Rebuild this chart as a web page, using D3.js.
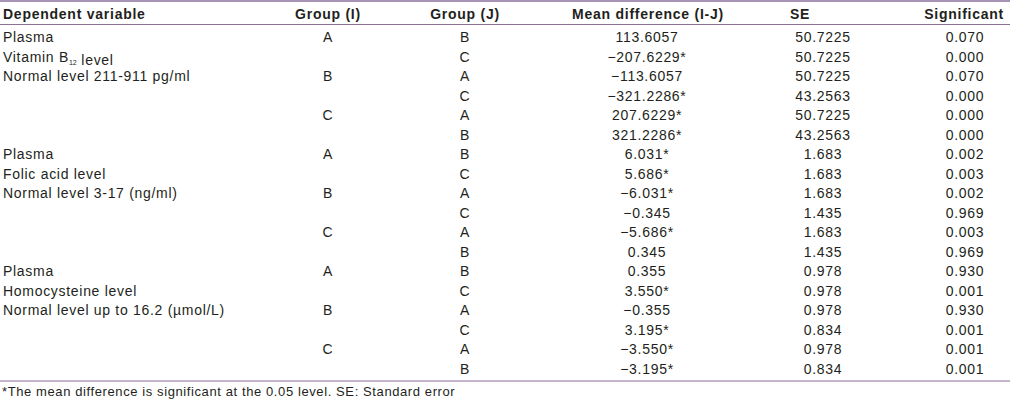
<!DOCTYPE html>
<html><head><meta charset="utf-8">
<script src="https://cdn.jsdelivr.net/npm/d3@7"></script>
<style>
html,body{margin:0;padding:0;background:#fff;}
svg text{font-family:"Liberation Sans",Arial,sans-serif;fill:#231f20;}
</style></head>
<body><svg id="c" width="1010" height="408"></svg>
<script>
const headers = ["Dependent variable","Group (I)","Group (J)","Mean difference (I-J)","SE","Significant"];
const variables = [
  ["Plasma","Vitamin B|12| level","Normal level 211-911 pg/ml"],
  ["Plasma","Folic acid level","Normal level 3-17 (ng/ml)"],
  ["Plasma","Homocysteine level","Normal level up to 16.2 (\u00b5mol/L)"]
];
const groupI = ["A","B","C"];
const groupJ = ["B","C","A","C","A","B","B","C","A","C","A","B","B","C","A","C","A","B"];
const meanDiff = ["113.6057","\u2212207.6229*","\u2212113.6057","\u2212321.2286*","207.6229*","321.2286*",
  "6.031*","5.686*","\u22126.031*","\u22120.345","\u22125.686*","0.345",
  "0.355","3.550*","\u22120.355","3.195*","\u22123.550*","\u22123.195*"];
const se = ["50.7225","50.7225","50.7225","43.2563","50.7225","43.2563",
  "1.683","1.683","1.683","1.435","1.683","1.435",
  "0.978","0.978","0.978","0.834","0.978","0.834"];
const sig = ["0.070","0.000","0.070","0.000","0.000","0.000",
  "0.002","0.003","0.002","0.969","0.003","0.969",
  "0.930","0.001","0.930","0.001","0.001","0.001"];
const footnote = "*The mean difference is significant at the 0.05 level. SE: Standard error";

const svg = d3.select("#c");
const lineColor = "#8c6f9b";
const nRows = groupJ.length;
const y = d3.scaleLinear().domain([0, nRows-1]).range([37, 368.5]);
const baseOff = 5;
const fs = 14, ls = 0.7;

// rules
[[1,1.5],[24.5,1.2],[381,1.2]].forEach(([yy,w])=>{
  svg.append("line").attr("x1",0).attr("x2",1010).attr("y1",yy).attr("y2",yy)
    .attr("stroke",lineColor).attr("stroke-width",w);
});

// headers
const hdrPos = [[3,"start"],[328,"middle"],[465,"middle"],[648,"middle"],[790,"start"],[1004,"end"]];
headers.forEach((h,i)=>{
  svg.append("text").attr("x",hdrPos[i][0]).attr("y",19).attr("text-anchor",hdrPos[i][1])
    .attr("font-size",fs).attr("font-weight","bold").attr("letter-spacing",0.75).text(h);
});

function cell(x, row, txt, anchor){
  return svg.append("text").attr("x",x).attr("y",y(row)+baseOff).attr("text-anchor",anchor)
    .attr("font-size",fs).attr("letter-spacing",ls).text(txt);
}

// dependent variables
variables.forEach((lines,b)=>{
  lines.forEach((ln,k)=>{
    const t = svg.append("text").attr("x",3).attr("y",y(b*6+k)+baseOff)
      .attr("font-size",fs).attr("letter-spacing",ls);
    const parts = ln.split("|");
    parts.forEach((p,pi)=>{
      if(pi%2===1){
        t.append("tspan").attr("font-size",7).attr("dy",3.5).attr("letter-spacing",0).text(p);
        t.append("tspan").attr("dy",-3.5).text("");
      } else {
        t.append("tspan").text(p);
      }
    });
  });
  groupI.forEach((g,k)=>cell(328, b*6+k*2, g, "middle"));
});

groupJ.forEach((g,r)=>cell(465, r, g, "middle"));
meanDiff.forEach((v,r)=>cell(647, r, v, "middle"));
se.forEach((v,r)=>cell(823, r, v, "middle"));
sig.forEach((v,r)=>cell(965, r, v, "middle"));

svg.append("text").attr("x",2).attr("y",396).attr("font-size",13).attr("letter-spacing",0.6).text(footnote);
</script></body></html>
